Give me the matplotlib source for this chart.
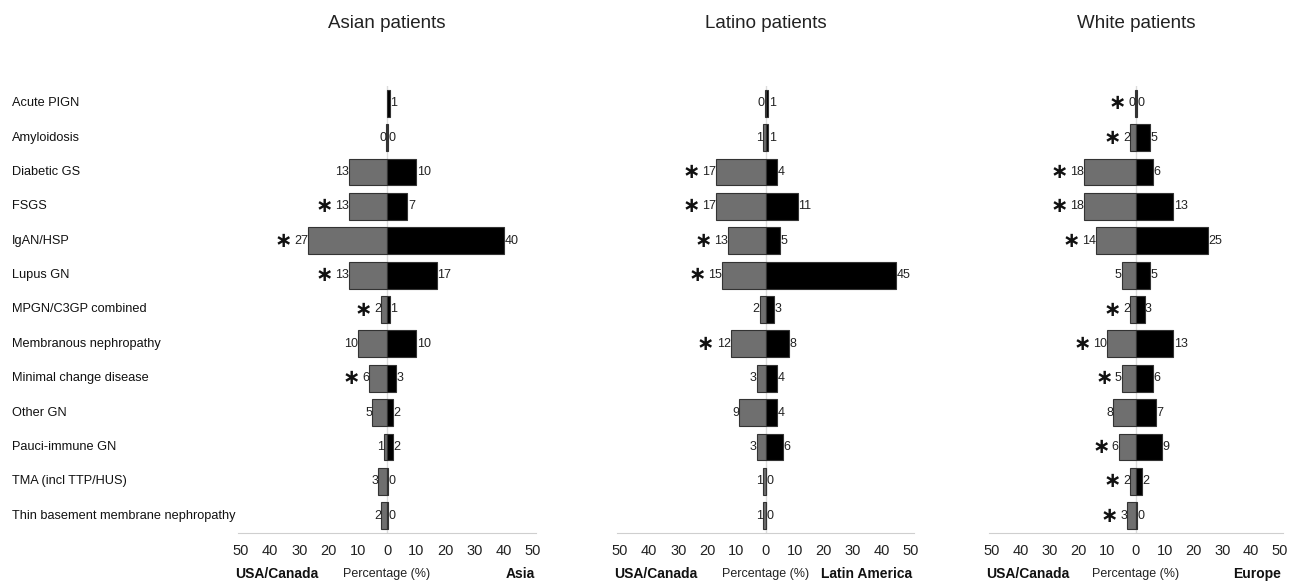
import numpy as np
import matplotlib
matplotlib.use('Agg')
import matplotlib.pyplot as plt
import matplotlib.transforms as mtransforms

NARROW = ['Liberation Sans Narrow', 'Liberation Sans', 'DejaVu Sans']
plt.rcParams['font.family'] = ['Liberation Sans', 'DejaVu Sans']

categories = ['Acute PIGN', 'Amyloidosis', 'Diabetic GS', 'FSGS', 'IgAN/HSP',
              'Lupus GN', 'MPGN/C3GP combined', 'Membranous nephropathy',
              'Minimal change disease', 'Other GN', 'Pauci-immune GN',
              'TMA (incl TTP/HUS)', 'Thin basement membrane nephropathy']

titles = ['Asian patients', 'Latino patients', 'White patients']
regions = ['Asia', 'Latin America', 'Europe']

# USA/Canada share (left, gray) and region share (right, black); nan = not shown
asian_us = [np.nan, 0.3, 13, 13, 27, 13, 2, 10, 6, 5, 1, 3, 2]
asian_reg = [1, 0.3, 10, 7, 40, 17, 1, 10, 3, 2, 2, 0.3, 0.3]
asian_star = [0, 0, 0, 1, 1, 1, 1, 0, 1, 0, 0, 0, 0]

latino_us = [0.3, 1, 17, 17, 13, 15, 2, 12, 3, 9, 3, 1, 1]
latino_reg = [1, 1, 4, 11, 5, 45, 3, 8, 4, 4, 6, 0.3, 0.3]
latino_star = [0, 0, 1, 1, 1, 1, 0, 1, 0, 0, 0, 0, 0]

white_us = [0.3, 2, 18, 18, 14, 5, 2, 10, 5, 8, 6, 2, 3]
white_reg = [0.3, 5, 6, 13, 25, 5, 3, 13, 6, 7, 9, 2, 0.3]
white_star = [1, 1, 1, 1, 1, 0, 1, 1, 1, 0, 1, 1, 1]

panels = [(asian_us, asian_reg, asian_star),
          (latino_us, latino_reg, latino_star),
          (white_us, white_reg, white_star)]

W, H = 1289, 583
fig = plt.figure(figsize=(W / 100, H / 100), dpi=100)

# pixel extents of each panel's x axis (-50 .. 50)
xpix = [(241, 533), (620, 911), (992, 1280)]
top_px, bot_px = 86, 533

y = np.arange(len(categories))
ticks = np.arange(-50, 51, 10)

for k, ((us, reg, star), (x0, x1)) in enumerate(zip(panels, xpix)):
    ax = fig.add_axes([x0 / W, (H - bot_px) / H, (x1 - x0) / W, (bot_px - top_px) / H])
    us = np.array(us, dtype=float)
    reg = np.array(reg, dtype=float)

    ax.axvline(0, color='#dcdcdc', lw=1, zorder=0)
    ok = ~np.isnan(us)
    ax.barh(y[ok], -us[ok], height=0.78, color='#6f6f6f', edgecolor='#333333', lw=0.8, zorder=2)
    ax.barh(y, reg, height=0.78, color='black', edgecolor='#333333', lw=0.8, zorder=2)

    for i in range(len(categories)):
        if ok[i]:
            t = ax.annotate(f'{us[i]:.0f}', xy=(-us[i], i), xytext=(0, 0),
                            textcoords='offset points', ha='right', va='center',
                            fontsize=9, family=NARROW, color='#222222', zorder=3)
            if star[i]:
                ax.annotate('\u2217', xy=(0, 0.5), xycoords=t, xytext=(-1.5, 0),
                            textcoords='offset points', ha='right', va='center',
                            fontsize=15, fontweight='bold', family=['DejaVu Sans'],
                            color='#111111')
        ax.annotate(f'{reg[i]:.0f}', xy=(reg[i], i), xytext=(0.3, 0),
                    textcoords='offset points', ha='left', va='center',
                    fontsize=9, family=NARROW, color='#222222', zorder=3)

    ax.set_xlim(-50, 50)
    ax.set_ylim(len(categories) - 0.5, -0.5)
    ax.set_yticks([])
    ax.set_xticks(ticks)
    ax.set_xticklabels([str(abs(v)) for v in ticks], family=NARROW, fontsize=10.5, color='#222222')
    ax.tick_params(axis='x', length=0, pad=8)
    for s in ['top', 'right', 'left']:
        ax.spines[s].set_visible(False)
    ax.spines['bottom'].set_color('#cfcfcf')
    ax.spines['bottom'].set_bounds(-51, 51)

    # bottom captions
    ly = -(574 - bot_px) / (bot_px - top_px)
    ax.text(-52, ly, 'USA/Canada', transform=ax.get_xaxis_transform(), ha='left', va='center',
            fontsize=10, fontweight='bold', family=NARROW, color='#111111')
    ax.text(0, ly, 'Percentage (%)', transform=ax.get_xaxis_transform(), ha='center', va='center',
            fontsize=9, family=NARROW, color='#222222')
    ax.text(50.5, ly, regions[k], transform=ax.get_xaxis_transform(), ha='right', va='center',
            fontsize=10, fontweight='bold', family=NARROW, color='#111111')

    fig.text((x0 + x1) / 2 / W, 1 - 24 / H, titles[k], ha='center', va='center',
             fontsize=13.5, color='#222222')

    if k == 0:
        trans = mtransforms.blended_transform_factory(fig.transFigure, ax.transData)
        for i, c in enumerate(categories):
            ax.text(12 / W, i, c, transform=trans, ha='left', va='center',
                    fontsize=9.2, family=NARROW, color='#111111')

fig.savefig('out.png', dpi=100)
